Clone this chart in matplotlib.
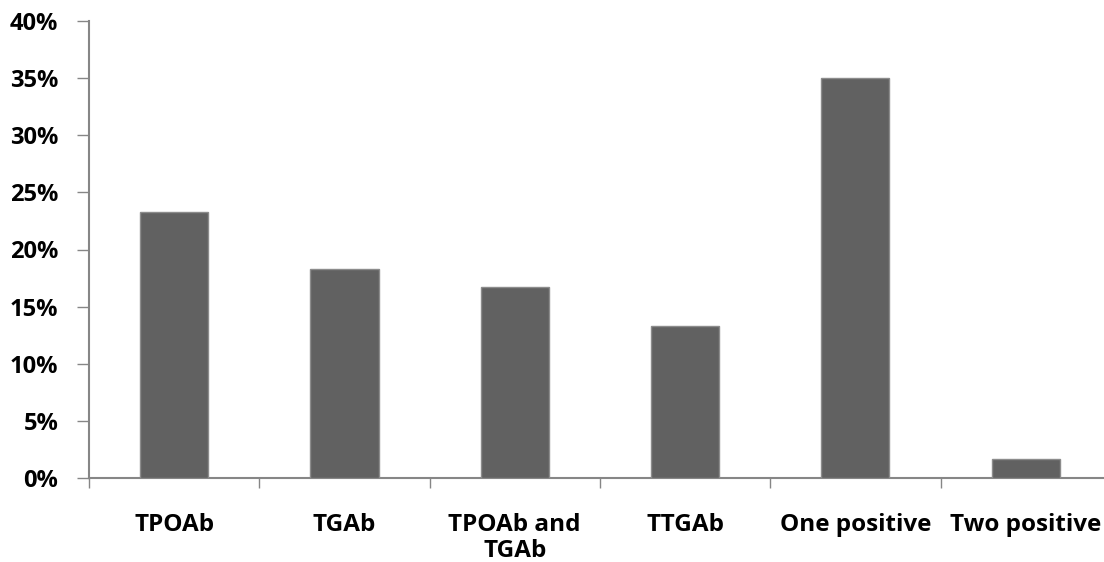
import matplotlib.pyplot as plt
import matplotlib.ticker as mticker
import numpy as np

# Data
categories = ["TPOAb", "TGAb", "TPOAb and\nTGAb", "TTGAb", "One positive", "Two positive"]
percent = [23.3, 18.3, 16.7, 13.3, 35.0, 1.7]

plt.rcParams['font.family'] = ['Open Sans', 'DejaVu Sans']
plt.rcParams['font.weight'] = 'bold'

fig = plt.figure(figsize=(11.04, 5.62), dpi=100)
ax = fig.add_axes([89 / 1104, 1 - 478 / 562, 6 * 170.3 / 1104, 457 / 562])

x = np.arange(len(categories))
ax.bar(x, percent, width=0.4, color='#616161', edgecolor='#8c8c8c', linewidth=1, zorder=3)

ax.set_xlim(-0.5, len(categories) - 0.5)
ax.set_ylim(0, 40)
ax.yaxis.set_major_locator(mticker.MultipleLocator(5))
ax.yaxis.set_major_formatter(mticker.FuncFormatter(lambda v, _: f"{v:.0f}%"))

# Category labels at centers, tick marks at boundaries
ax.set_xticks(x)
ax.set_xticklabels(categories, fontsize=17.5, fontweight='bold', linespacing=1.15, va='top')
ax.tick_params(axis='x', which='major', length=0, pad=25)
ax.set_xticks(np.arange(-0.5, len(categories), 1), minor=True)
ax.tick_params(axis='x', which='minor', length=7, width=1, color='#868686', direction='out')
ax.tick_params(axis='y', length=9, width=1, color='#868686', labelsize=17, pad=13)
for lbl in ax.get_yticklabels():
    lbl.set_fontweight('bold')

for side in ['top', 'right']:
    ax.spines[side].set_visible(False)
for side in ['left', 'bottom']:
    ax.spines[side].set_color('#868686')
    ax.spines[side].set_linewidth(1.5)

fig.savefig("out.png", dpi=100)
